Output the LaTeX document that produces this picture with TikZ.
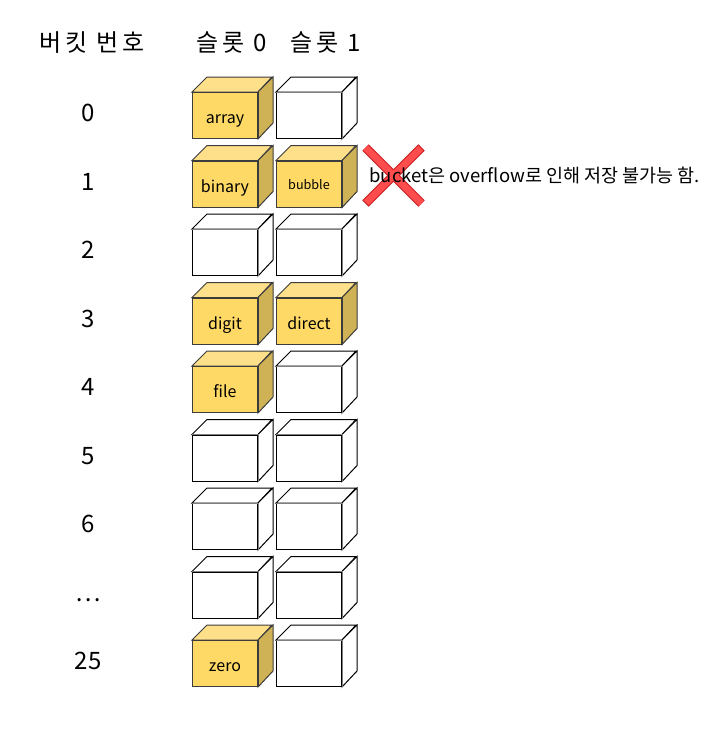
\documentclass[tikz,border=0pt]{standalone}
\usepackage{fontspec}
\setmainfont{Noto Sans CJK KR}
\newfontfamily\headfont[LetterSpace=15]{Noto Sans CJK KR}
\definecolor{boxfront}{HTML}{FFD966}
\definecolor{boxtop}{HTML}{FFE08A}
\definecolor{boxside}{HTML}{CFB256}
\definecolor{boxline}{HTML}{3C3C3C}
\definecolor{crossfill}{HTML}{FF4D4D}
\definecolor{crossline}{HTML}{C81E1E}
\tikzset{
  slot/.style={minimum width=65pt,minimum height=46pt,inner sep=0pt,anchor=north west,
    text height=16pt,text depth=0pt,font=\fontsize{16}{16}\selectfont},
  full-front/.style={draw=boxline,fill=boxfront},
  full-top/.style={draw=boxline,fill=boxtop},
  full-side/.style={draw=boxline,fill=boxside},
  full-edge/.style={draw=boxline},
  empty-front/.style={draw=black,fill=white},
  empty-top/.style={draw=black,fill=white},
  empty-side/.style={draw=black,fill=white},
  empty-edge/.style={draw=gray},
  rowlabel/.style={text height=17pt,text depth=0pt,font=\fontsize{24}{24}\selectfont},
  header/.style={font=\headfont\fontsize{24}{24}\selectfont},
}
\newcommand\slotcube[5]{%
  \node[slot,#4-front] (#1) at (#2,#3) {#5};
  \draw[#4-top] (#1.north west) -- ++(15,-15) -- ++(65,0) -- (#1.north east) -- cycle;
  \draw[#4-side] (#1.north east) -- ++(15,-15) -- ++(0,46) -- (#1.south east) -- cycle;
  \draw[#4-edge] (#1.north west) -- (#1.north east) -- (#1.south east);
}
\begin{document}
\begin{tikzpicture}[x=1pt,y=-1pt,line width=1pt]
\useasboundingbox (0,0) rectangle (715,734);
\node[header] (bucketno) at (92,43) {버킷 번호};
\node[header] (slot0) at (232,43) {슬롯 0};
\node[header] (slot1) at (326,43) {슬롯 1};
\foreach \r/\lab/\ka/\ta/\kb/\tb in {0/0/full/array/empty/{},
  1/1/full/binary/full/{\raisebox{3pt}{\fontsize{12.6}{12.6}\selectfont bubble}},
  2/2/empty/{}/empty/{},
  3/3/full/digit/full/direct,
  4/4/full/file/empty/{},
  5/5/empty/{}/empty/{},
  6/6/empty/{}/empty/{},
  7/\dots/empty/{}/empty/{},
  8/25/full/zero/empty/{}}
{
  \pgfmathsetmacro\ytop{92+68.5*\r}
  \node[rowlabel] (num\r) at (88,\ytop+21) {\lab};
  \slotcube{a\r}{192}{\ytop}{\ka}{\ta}
  \slotcube{b\r}{276}{\ytop}{\kb}{\tb}
}
\coordinate (cross) at (393.5,175.5);
\draw[crossline,line width=9pt] ([shift={(-28,-28)}]cross) -- ([shift={(28,28)}]cross)
  ([shift={(28,-28)}]cross) -- ([shift={(-28,28)}]cross);
\draw[crossfill,line width=7pt,shorten <=1pt,shorten >=1pt] ([shift={(-28,-28)}]cross) -- ([shift={(28,28)}]cross)
  ([shift={(28,-28)}]cross) -- ([shift={(-28,28)}]cross);
\node[anchor=west,inner sep=0pt,font=\fontsize{18.5}{18.5}\selectfont] (note) at (369,176) {bucket은 overflow로 인해 저장 불가능 함.};
\end{tikzpicture}
\end{document}
